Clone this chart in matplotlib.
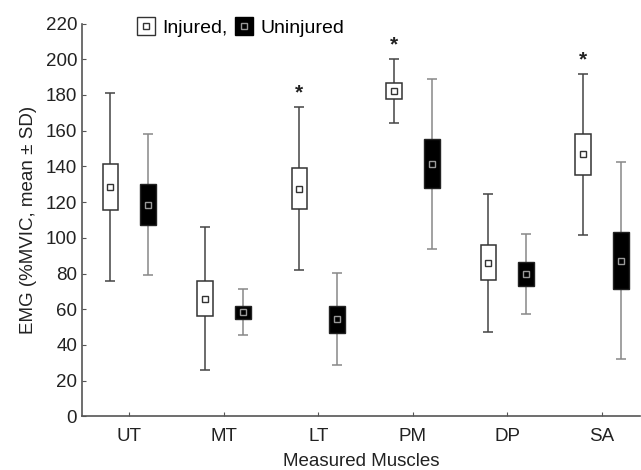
import numpy as np
import matplotlib
matplotlib.use("Agg")
import matplotlib.pyplot as plt
from matplotlib.lines import Line2D
from matplotlib.legend_handler import HandlerTuple

plt.rcParams['font.family'] = ['Liberation Sans', 'DejaVu Sans']

# Data (mean, box = mean +/- SE, whiskers = mean +/- SD)
muscles = ["UT", "MT", "LT", "PM", "DP", "SA"]
inj_mean = [128.5, 65.9, 127.5, 182.4, 86.1, 146.8]
inj_se = [13.1, 9.9, 11.5, 4.4, 9.6, 11.4]
inj_sd = [52.6, 40.0, 45.7, 17.9, 38.6, 45.2]
uninj_mean = [118.6, 58.4, 54.5, 141.5, 79.7, 87.2]
uninj_se = [11.7, 3.7, 7.6, 13.8, 6.6, 16.1]
uninj_sd = [39.6, 12.7, 25.6, 47.7, 22.4, 55.3]
signif = [False, False, True, True, False, True]

x = np.arange(1, len(muscles) + 1)
off = 0.2
bw = 0.165

fig = plt.figure(figsize=(6.41, 4.70), dpi=100)
ax = fig.add_axes([0.128, 0.114, 0.87, 0.836])

# Injured: white boxes
ax.errorbar(x - off, inj_mean, yerr=inj_sd, fmt='none', ecolor='#444444',
            elinewidth=1.1, capsize=3.6, capthick=1.1, zorder=1)
ax.bar(x - off, 2 * np.array(inj_se), bottom=np.array(inj_mean) - np.array(inj_se),
       width=bw, color='white', edgecolor='#333333', linewidth=1.1, zorder=2)
ax.plot(x - off, inj_mean, 's', ms=4.5, mfc='white', mec='#333333', mew=1.0, zorder=3)

# Uninjured: black boxes
ax.errorbar(x + off, uninj_mean, yerr=uninj_sd, fmt='none', ecolor='#888888',
            elinewidth=1.1, capsize=3.6, capthick=1.1, zorder=1)
ax.bar(x + off, 2 * np.array(uninj_se), bottom=np.array(uninj_mean) - np.array(uninj_se),
       width=bw, color='black', edgecolor='#222222', linewidth=1.0, zorder=2)
ax.plot(x + off, uninj_mean, 's', ms=4.5, mfc='black', mec='#999999', mew=1.0, zorder=3)

# significance stars
for xi, m, s, flag in zip(x - off, inj_mean, inj_sd, signif):
    if flag:
        ax.text(xi, m + s + 2.5, "*", ha='center', va='bottom', fontsize=15,
                fontweight='bold', color='#222222')

ax.set_xlim(0.5, 6.4)
ax.set_ylim(0, 220)
ax.set_yticks(np.arange(0, 221, 20))
ax.set_xticks(x)
ax.set_xticklabels(muscles)
ax.tick_params(direction='in', length=3, width=0.8, labelsize=13.5, colors='#555555',
               labelcolor='#222222')
ax.tick_params(axis='x', pad=8)
for side in ['top', 'right']:
    ax.spines[side].set_visible(False)
for side in ['left', 'bottom']:
    ax.spines[side].set_color('#555555')
    ax.spines[side].set_linewidth(1.2)

ax.set_ylabel("EMG (%MVIC, mean \u00b1 SD)", fontsize=13.5, color='#222222', labelpad=6)
ax.set_xlabel("Measured Muscles", fontsize=13.5, color='#222222', labelpad=6)

h_inj = (Line2D([], [], marker='s', ls='none', ms=12.5, mfc='white', mec='#333333', mew=1.0),
         Line2D([], [], marker='s', ls='none', ms=4, mfc='white', mec='#333333', mew=1.0))
h_un = (Line2D([], [], marker='s', ls='none', ms=12.5, mfc='black', mec='black', mew=1.0),
        Line2D([], [], marker='s', ls='none', ms=4, mfc='black', mec='#999999', mew=1.0))
ax.legend([h_inj, h_un], ["Injured,", "Uninjured"], handler_map={tuple: HandlerTuple(ndivide=1)},
          ncol=2, frameon=False, loc='upper left', bbox_to_anchor=(0.065, 1.055),
          fontsize=14, handlelength=1.0, handletextpad=0.35, columnspacing=0.35)

fig.savefig("out.png", dpi=100)
